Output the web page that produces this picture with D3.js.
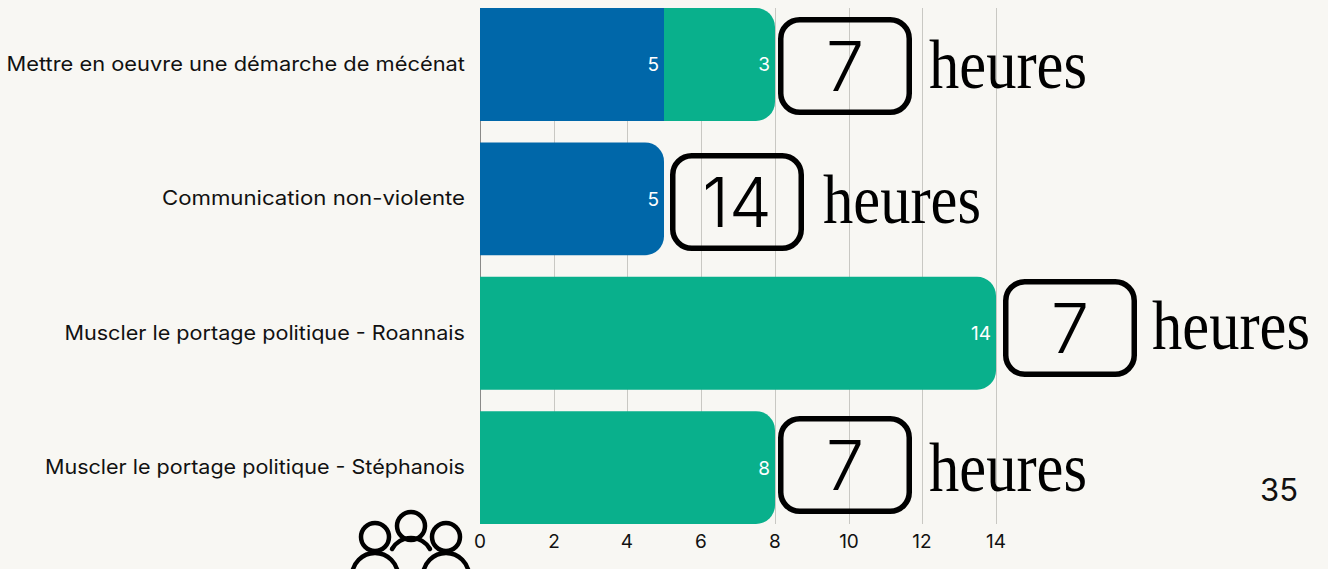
<!DOCTYPE html>
<html><head><meta charset="utf-8">
<script src="https://cdn.jsdelivr.net/npm/d3@7"></script>
<style>html,body{margin:0;padding:0;background:#f8f7f3;overflow:hidden}svg{display:block}</style>
</head><body><svg id="c" width="1328" height="569"></svg>
<script>
const categories=["Mettre en oeuvre une démarche de mécénat","Communication non-violente","Muscler le portage politique - Roannais","Muscler le portage politique - Stéphanois"];
const seriesBlue=[5,5,0,0];
const seriesGreen=[3,0,14,8];
const hours=[7,14,7,7];
const xTicks=[0,2,4,6,8,10,12,14];
const unitLabel="heures";
const pageNumber="35";

// overlay placement of the hand-placed badges (offsets from each bar's end/top)
const badgeDx=[3,6,7,3], badgeDy=[9,11,2,5], unitDy=[71,70,70,75], unitDx=[151,153,149,151];
const labelStretch=[1.092,1.11,1.08,1.077];
const sans="Inter, 'Open Sans', sans-serif";
const svg=d3.select("#c");
const x=d3.scaleLinear().domain([0,14]).rangeRound([480,996]);
const y=d3.scaleBand().domain(categories).range([8,524]).paddingInner(0.16).paddingOuter(0);
const grid=svg.append("g");
grid.selectAll("line").data(xTicks).join("line")
 .attr("x1",d=>x(d)+.5).attr("x2",d=>x(d)+.5).attr("y1",8).attr("y2",524)
 .attr("stroke",d=>d===0?"#8a8a88":"#c9c8c3").attr("stroke-width",1);
function roundedRight(x0,x1,y0,h,r){
 const p=d3.path();p.moveTo(x0,y0);p.lineTo(x1-r,y0);p.arcTo(x1,y0,x1,y0+r,r);
 p.lineTo(x1,y0+h-r);p.arcTo(x1,y0+h,x1-r,y0+h,r);p.lineTo(x0,y0+h);p.closePath();return p.toString();
}
function stretched(sel,k){ sel.each(function(){ const w=this.getComputedTextLength();
  d3.select(this).attr("textLength",w*k).attr("lengthAdjust","spacingAndGlyphs"); }); return sel; }
const rows=categories.map((c,i)=>({c,i,b:seriesBlue[i],g:seriesGreen[i],h:hours[i]}));
const bars=svg.append("g");
rows.forEach(r=>{
 const y0=y(r.c),bw=y.bandwidth(),tot=r.b+r.g;
 if(r.b>0){
  bars.append("path").attr("fill","#0067a9").attr("d",r.g>0
   ?`M${x(0)},${y0}H${x(r.b)}V${y0+bw}H${x(0)}Z`:roundedRight(x(0),x(r.b),y0,bw,19));
  bars.append("text").attr("x",x(r.b)-5).attr("y",y0+bw/2+7).attr("text-anchor","end")
   .attr("fill","#fff").attr("font-family",sans).attr("font-size",19).text(r.b);
 }
 if(r.g>0){
  bars.append("path").attr("fill","#09b08c").attr("d",roundedRight(x(r.b),x(tot),y0,bw,19));
  bars.append("text").attr("x",x(tot)-5).attr("y",y0+bw/2+7).attr("text-anchor","end")
   .attr("fill","#fff").attr("font-family",sans).attr("font-size",19).text(r.g);
 }
 const lab=svg.append("text").attr("x",465).attr("y",y0+bw/2+6.5).attr("text-anchor","end")
  .attr("fill","#111").attr("font-family",sans).attr("font-size",20).text(r.c);
 stretched(lab,labelStretch[r.i]);
 const bx=x(tot)+badgeDx[r.i], by=Math.round(y0)+badgeDy[r.i];
 svg.append("rect").attr("x",bx+2.75).attr("y",by+2.75).attr("width",128.5).attr("height",92.5).attr("rx",19)
  .attr("fill","none").attr("stroke","#000").attr("stroke-width",5.5);
 svg.append("text").attr("x",bx+67).attr("y",by+74).attr("text-anchor","middle")
  .attr("font-family",sans).attr("font-weight",350).attr("font-size",68).attr("fill","#000").text(r.h);
 svg.append("text").attr("transform",`translate(${bx+unitDx[r.i]},${by+unitDy[r.i]}) scale(0.865,1)`)
  .attr("font-family","'Liberation Serif',serif")
  .attr("font-size",70).attr("fill","#000").text(unitLabel);
});
const tk=svg.append("g").selectAll("text").data(xTicks).join("text")
 .attr("x",d=>x(d)).attr("y",548).attr("text-anchor","middle").attr("fill","#111")
 .attr("font-family",sans).attr("font-size",19).text(d=>d);
svg.append("text").attr("x",1279).attr("y",501).attr("text-anchor","middle").attr("fill","#111")
 .attr("font-family",sans).attr("font-size",31).text(pageNumber);
const icon=svg.append("g").attr("fill","none").attr("stroke","#000").attr("stroke-width",4.5);
[[375,537],[446,537]].forEach(([cx,cy])=>{
 icon.append("circle").attr("cx",cx).attr("cy",cy).attr("r",14);
 icon.append("path").attr("d",`M${cx-23},576a23,23 0 0 1 46,0`);
});
icon.append("circle").attr("cx",411).attr("cy",526).attr("r",14);
icon.append("path").attr("d","M392,549A22,22 0 0 1 430,549").attr("stroke-linecap","round");
</script></body></html>
